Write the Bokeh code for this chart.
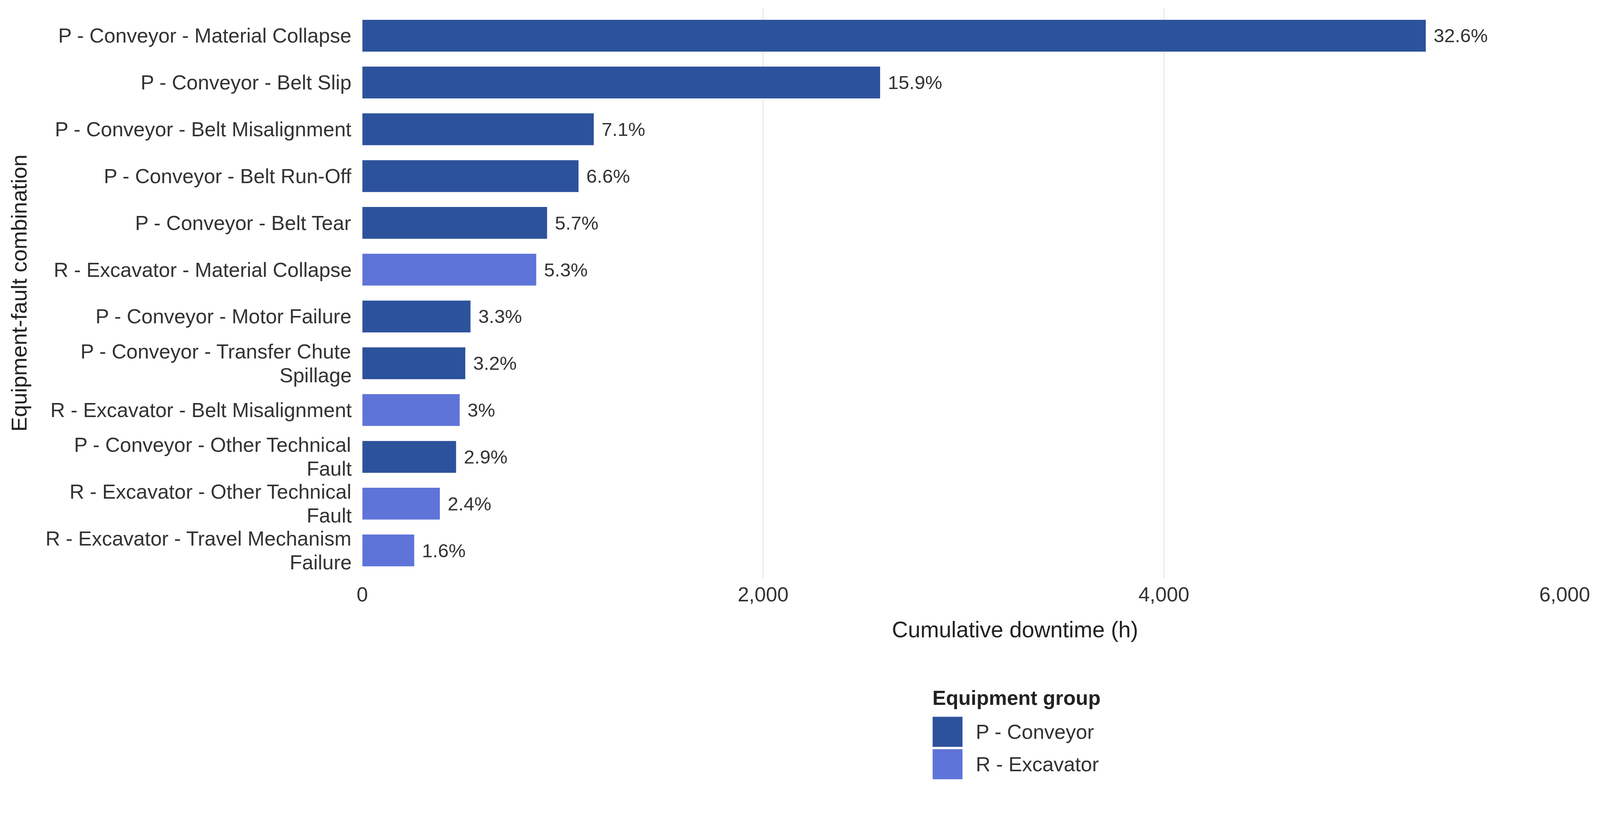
from bokeh.plotting import figure
from bokeh.layouts import column
from bokeh.models import (ColumnDataSource, FactorRange, Range1d, FixedTicker,
                          NumeralTickFormatter, Legend, LegendItem, Label)
from bokeh.core.properties import value
from bokeh.embed import file_html
from bokeh.resources import INLINE

# ---- data (top to bottom as in the chart) ----
categories = [
    "P - Conveyor - Material Collapse",
    "P - Conveyor - Belt Slip",
    "P - Conveyor - Belt Misalignment",
    "P - Conveyor - Belt Run-Off",
    "P - Conveyor - Belt Tear",
    "R - Excavator - Material Collapse",
    "P - Conveyor - Motor Failure",
    "P - Conveyor - Transfer Chute\nSpillage",
    "R - Excavator - Belt Misalignment",
    "P - Conveyor - Other Technical\nFault",
    "R - Excavator - Other Technical\nFault",
    "R - Excavator - Travel Mechanism\nFailure",
]
downtime_h = [5307, 2584, 1155, 1079, 922, 868, 540, 514, 486, 468, 387, 259]
share_pct = [32.6, 15.9, 7.1, 6.6, 5.7, 5.3, 3.3, 3.2, 3, 2.9, 2.4, 1.6]
groups = ["P - Conveyor", "P - Conveyor", "P - Conveyor", "P - Conveyor", "P - Conveyor",
          "R - Excavator", "P - Conveyor", "P - Conveyor", "R - Excavator",
          "P - Conveyor", "R - Excavator", "R - Excavator"]
group_names = ["P - Conveyor", "R - Excavator"]
group_colors = {"P - Conveyor": "#2D529C", "R - Excavator": "#5F74D8"}
x_ticks = [0, 2000, 4000, 6000]

FONT = "Liberation Sans"
W = 4080
H1 = 1568   # main chart
H2 = 447    # x title + legend strip
BL, BR = 927, 75   # left / right borders shared by both parts

src = ColumnDataSource(dict(
    cat=categories,
    val=downtime_h,
    lab=[f"{v:g}%" for v in share_pct],
    grp=groups,
))

p = figure(width=W, height=H1, output_backend="svg", toolbar_location=None,
           title=None,
           y_range=FactorRange(factors=list(reversed(categories)),
                               range_padding=0.1, range_padding_units="absolute"),
           x_range=Range1d(0, 6000),
           min_border_left=BL, min_border_right=BR,
           min_border_top=19, min_border_bottom=87)
p.outline_line_color = None
p.background_fill_color = "white"
p.border_fill_color = "white"

group_sources = {}
for g in group_names:
    idx = [i for i, gg in enumerate(groups) if gg == g]
    sub = ColumnDataSource(dict(cat=[categories[i] for i in idx],
                                val=[downtime_h[i] for i in idx],
                                pos=list(range(len(idx)))))
    group_sources[g] = sub
    p.hbar(y="cat", right="val", left=0, height=0.68, source=sub,
           fill_color=group_colors[g], line_color=None)

p.text(x="val", y="cat", text="lab", source=src, x_offset=20,
       text_baseline="middle", text_align="left",
       text_font=value(FONT), text_font_size="49px", text_color="#333333")

# axes
p.xaxis.ticker = FixedTicker(ticks=x_ticks)
p.xaxis.formatter = NumeralTickFormatter(format="0,0")
for ax in (p.xaxis[0], p.yaxis[0]):
    ax.axis_line_color = None
    ax.major_tick_line_color = None
    ax.minor_tick_line_color = None
    ax.major_tick_out = 0
    ax.major_tick_in = 0
    ax.major_label_text_font = FONT
    ax.major_label_text_font_size = "52px"
    ax.major_label_text_color = "#333333"
p.yaxis.major_label_text_line_height = 1.05
p.xaxis.major_label_standoff = 22
p.yaxis.major_label_standoff = 27
p.yaxis.axis_label = "Equipment-fault combination"
p.yaxis.axis_label_text_font = FONT
p.yaxis.axis_label_text_font_size = "56px"
p.yaxis.axis_label_text_font_style = "normal"
p.yaxis.axis_label_text_color = "#222222"
p.yaxis.axis_label_standoff = 33

p.xgrid.grid_line_color = "#E6E6E6"
p.xgrid.grid_line_width = 2.5
p.ygrid.grid_line_color = None

# ---- strip below: x-axis title and legend (pixel-mapped ranges) ----
p2 = figure(width=W, height=H2, output_backend="svg", toolbar_location=None,
            title=None, x_axis_location=None, y_axis_location=None,
            x_range=Range1d(BL, W - BR), y_range=Range1d(0, H2),
            min_border_left=BL, min_border_right=BR,
            min_border_top=0, min_border_bottom=0)
p2.outline_line_color = None
p2.grid.grid_line_color = None
p2.background_fill_color = "white"
p2.border_fill_color = "white"

p2.add_layout(Label(x=2598, y=404, text="Cumulative downtime (h)",
                    text_align="center", text_baseline="middle",
                    text_font=FONT, text_font_size="57px", text_color="#222222"))

# hidden copies of the data, only used to draw the legend keys
leg_renderers = {}
for g in group_names:
    leg_renderers[g] = p2.line(x="val", y="pos", source=group_sources[g],
                               visible=False, line_color=group_colors[g],
                               line_width=77, line_cap="butt")

legend = Legend(items=[LegendItem(label=g, renderers=[leg_renderers[g]]) for g in group_names],
                location=(1460, 17), orientation="vertical",
                title="Equipment group", title_text_font=FONT,
                title_text_font_size="52px", title_text_font_style="bold",
                title_text_color="#222222", title_standoff=15,
                label_text_font=FONT, label_text_font_size="52px",
                label_text_color="#333333",
                glyph_width=77, glyph_height=83, label_standoff=34,
                spacing=0, padding=0, margin=0,
                inactive_fill_alpha=0,
                border_line_color=None, background_fill_alpha=0)
p2.add_layout(legend, "center")

layout = column(p, p2, spacing=0)
open("out.html", "w").write(file_html(layout, INLINE))
